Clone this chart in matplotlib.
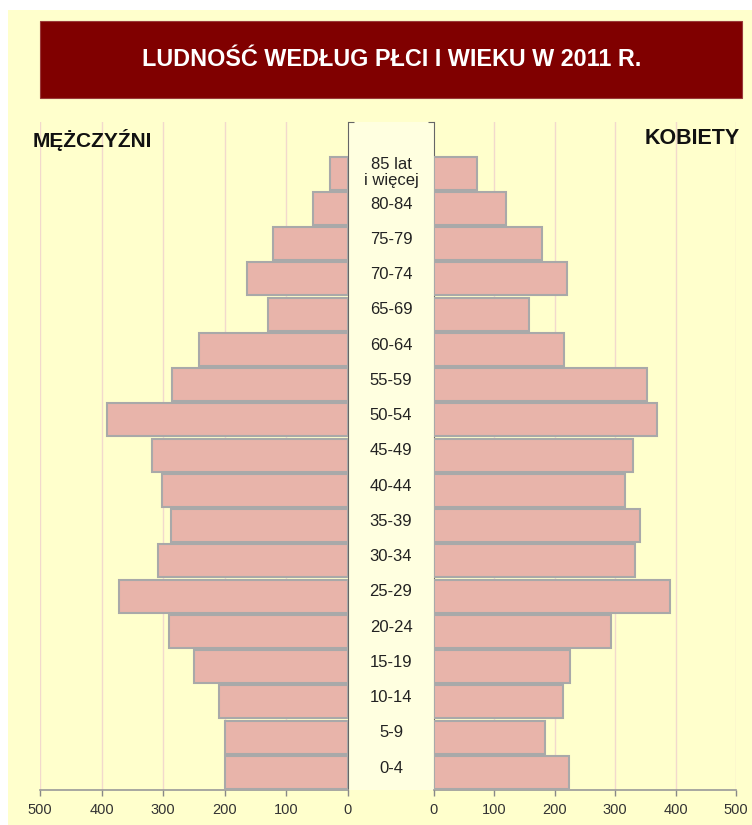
import matplotlib.pyplot as plt
import matplotlib.transforms as mtransforms
from matplotlib.patches import Rectangle

# dane: liczba ludności wg grup wieku (od najmłodszej)
age_groups = ["0-4", "5-9", "10-14", "15-19", "20-24", "25-29", "30-34", "35-39",
              "40-44", "45-49", "50-54", "55-59", "60-64", "65-69", "70-74",
              "75-79", "80-84", "85 lat\ni więcej"]
men = [200, 200, 209, 250, 291, 371, 308, 287, 302, 318, 391, 285, 242, 130,
       164, 122, 57, 29]
women = [223, 183, 214, 225, 293, 390, 333, 341, 316, 330, 370, 353, 216, 157,
         220, 178, 119, 72]
x_ticks = [0, 100, 200, 300, 400, 500]

W, H = 752, 825
bg = "#FFFFCC"
bar_fill = "#E8B4AA"
bar_edge = "#A9A9A9"
grid_col = "#F2D9CC"
font = ["Liberation Sans", "DejaVu Sans"]
plt.rcParams["font.family"] = font

fig = plt.figure(figsize=(W / 100, H / 100), dpi=100)
fig.patch.set_facecolor("white")

def fx(px):
    return px / W

def fy(py):
    return 1 - py / H

# tło
fig.patches.append(Rectangle((fx(8), 0), fx(744), (825 - 10) / H,
                             transform=fig.transFigure, facecolor=bg,
                             edgecolor="none", zorder=-3))
# pasek tytułu
fig.patches.append(Rectangle((fx(40), fy(98)), fx(702), (98 - 21) / H,
                             transform=fig.transFigure, facecolor="#800000",
                             edgecolor="#9a3a3a", linewidth=0.8, zorder=-2))
fig.text(fx(392), fy(59.5), "LUDNOŚĆ WEDŁUG PŁCI I WIEKU W 2011 R.",
         color="white", fontsize=16.8, fontweight="bold", ha="center", va="center")

# środkowy pas z etykietami
fig.patches.append(Rectangle((fx(348), fy(790)), fx(86), (790 - 122) / H,
                             transform=fig.transFigure, facecolor="#FFFFE0",
                             edgecolor="none", zorder=-2))

top, bottom = 122, 790
ax_l = fig.add_axes([fx(40), fy(bottom), fx(308), (bottom - top) / H])
ax_r = fig.add_axes([fx(434), fy(bottom), fx(302), (bottom - top) / H])

y = list(range(len(age_groups)))
ylim = (-0.5, 18.45)

for ax, vals in ((ax_l, men), (ax_r, women)):
    ax.set_facecolor("none")
    ax.barh(y, vals, height=0.93, color=bar_fill, edgecolor=bar_edge,
            linewidth=1.5, zorder=3)
    ax.set_xlim(0, 500)
    ax.set_ylim(*ylim)
    ax.set_xticks(x_ticks)
    ax.set_xticklabels([str(t) for t in x_ticks])
    for t in x_ticks[1:]:
        ax.axvline(t, color=grid_col, linewidth=1, zorder=1)
    ax.tick_params(axis="x", direction="out", length=4, width=1,
                   color="#888888", labelcolor="#333333", labelsize=10.5, pad=5)
    ax.spines["top"].set_visible(False)
    ax.spines["bottom"].set_color("#999999")
    ax.spines["bottom"].set_linewidth(1.2)

ax_l.invert_xaxis()
ax_l.spines["left"].set_visible(False)
ax_l.spines["right"].set_color("#666666")
ax_l.yaxis.tick_right()
ax_l.set_yticks([ylim[1]])
ax_l.set_yticklabels([])
ax_l.tick_params(axis="y", direction="out", length=4, color="#666666")

ax_r.spines["right"].set_visible(False)
ax_r.spines["left"].set_color("#666666")
ax_r.set_yticks([ylim[1]])
ax_r.set_yticklabels([])
ax_r.tick_params(axis="y", direction="out", length=4, color="#666666")

# etykiety grup wieku
trans = mtransforms.blended_transform_factory(fig.transFigure, ax_r.transData)
for yi, lab in zip(y, age_groups):
    off = 0.02 if "\n" in lab else 0.12
    ax_r.text(fx(391), yi + off, lab, transform=trans, ha="center", va="center",
              fontsize=12, color="#222222", linespacing=1.15)

fig.text(fx(33), fy(140), "MĘŻCZYŹNI", fontsize=15, fontweight="bold",
         ha="left", va="center", color="#111111")
fig.text(fx(740), fy(139), "KOBIETY", fontsize=15.5, fontweight="bold",
         ha="right", va="center", color="#111111")

fig.savefig("out.png", dpi=100, facecolor=fig.get_facecolor())
